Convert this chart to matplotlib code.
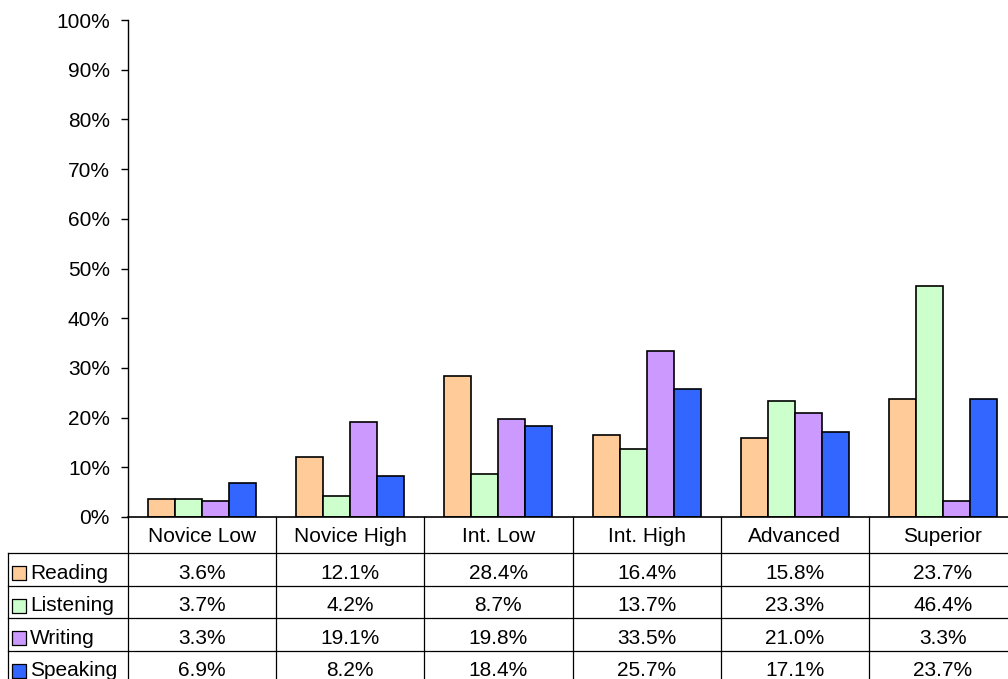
import matplotlib.pyplot as plt
import numpy as np
from matplotlib.ticker import PercentFormatter

plt.rcParams['font.family'] = ['Liberation Sans', 'DejaVu Sans']

# dados
categorias = ['Novice Low', 'Novice High', 'Int. Low', 'Int. High', 'Advanced', 'Superior']
series = ['Reading', 'Listening', 'Writing', 'Speaking']
reading = [3.6, 12.1, 28.4, 16.4, 15.8, 23.7]
listening = [3.7, 4.2, 8.7, 13.7, 23.3, 46.4]
writing = [3.3, 19.1, 19.8, 33.5, 21.0, 3.3]
speaking = [6.9, 8.2, 18.4, 25.7, 17.1, 23.7]
cores = ['#FFCC99', '#CCFFCC', '#CC99FF', '#3366FF']

valores = [reading, listening, writing, speaking]

W, H = 1008, 679
fig = plt.figure(figsize=(W / 100, H / 100), dpi=100)

# eixo principal (em pixels: x 128..1017, y 20..517)
ax = fig.add_axes([128 / W, (H - 517) / H, (1017 - 128) / W, (517 - 20) / H])
x = np.arange(len(categorias))
larg = 0.182
for k, (nome, vals) in enumerate(zip(series, valores)):
    ax.bar(x + (k - 1.5) * larg, vals, larg, color=cores[k], edgecolor='black',
           linewidth=1.2, label=nome)

ax.set_xlim(-0.5, len(categorias) - 0.5)
ax.set_ylim(0, 100)
ax.set_yticks(np.arange(0, 101, 10))
ax.yaxis.set_major_formatter(PercentFormatter(decimals=0))
ax.tick_params(axis='y', labelsize=15, length=5, width=1, pad=8)
ax.set_xticks([])
for s in ['top', 'right', 'bottom']:
    ax.spines[s].set_visible(False)
ax.spines['left'].set_linewidth(1)

# tabela de dados
tab = fig.add_axes([0, 0, 1017 / W, 162 / H])
esc = 889 / 6
x0 = -0.5 - 128 / esc
tab.set_xlim(x0, 5.5)
tab.set_ylim(162, 0)
tab.axis('off')

linhas_y = [0, 36, 68.5, 101, 133.5, 166]
xe = -0.5 - 120 / esc
lc = 'black'
lw = 0.9
tab.plot([-0.5, 5.5], [0, 0], color=lc, lw=1.2, clip_on=False)
for i in range(len(categorias) + 1):
    tab.plot([i - 0.5, i - 0.5], [0, 166], color=lc, lw=lw, clip_on=False)
for yy in linhas_y[1:]:
    tab.plot([xe, 5.5], [yy, yy], color=lc, lw=lw, clip_on=False)
tab.plot([xe, xe], [36, 166], color=lc, lw=lw, clip_on=False)

fs = 15
for i, c in enumerate(categorias):
    tab.text(i, 19, c, ha='center', va='center', fontsize=fs)

for k, (nome, vals) in enumerate(zip(series, valores)):
    yc = (linhas_y[k + 1] + linhas_y[k + 2]) / 2 + 4
    tab.scatter([xe + 11 / esc], [yc], marker='s', s=90, color=cores[k],
                edgecolor='black', linewidth=0.9, clip_on=False)
    tab.text(xe + 22 / esc, yc, nome, ha='left', va='center', fontsize=fs)
    for i, v in enumerate(vals):
        tab.text(i, yc, f'{v:.1f}%', ha='center', va='center', fontsize=fs)

fig.savefig('out.png', dpi=100)
